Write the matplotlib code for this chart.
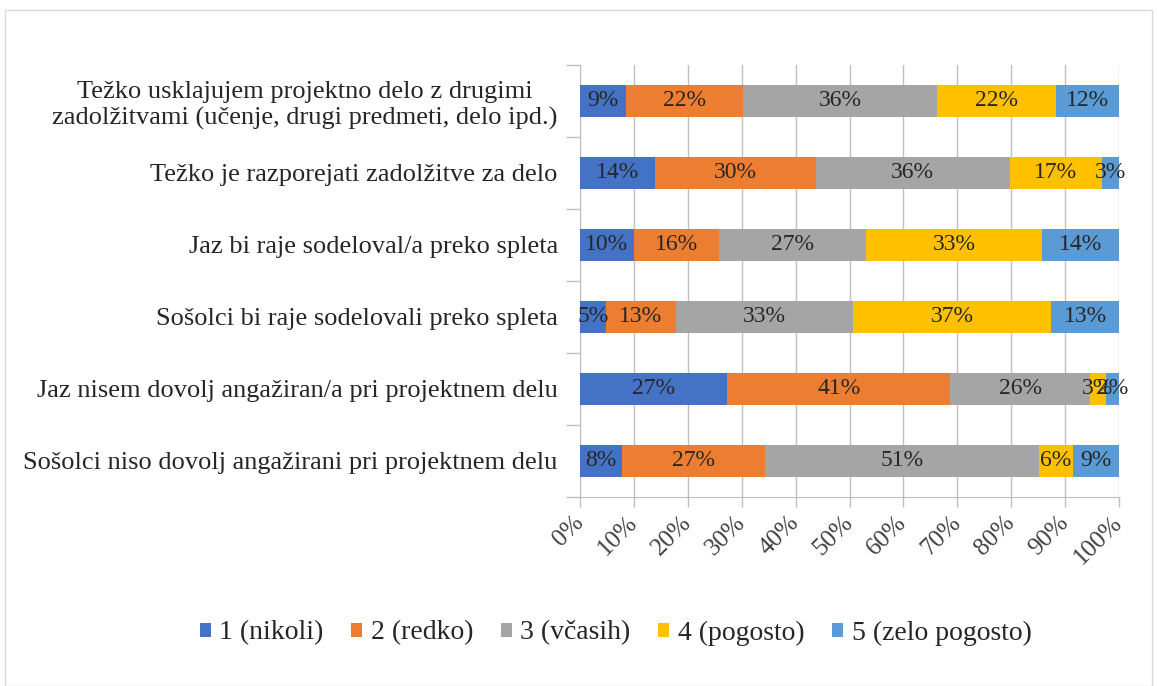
import numpy as np
import matplotlib
matplotlib.use('Agg')
from matplotlib import pyplot as plt
from matplotlib.patches import Rectangle

categories = [
    'Težko usklajujem projektno delo z drugimi\nzadolžitvami (učenje, drugi predmeti, delo ipd.)',
    'Težko je razporejati zadolžitve za delo',
    'Jaz bi raje sodeloval/a preko spleta',
    'Sošolci bi raje sodelovali preko spleta',
    'Jaz nisem dovolj angažiran/a pri projektnem delu',
    'Sošolci niso dovolj angažirani pri projektnem delu',
]
series = ['1 (nikoli)', '2 (redko)', '3 (včasih)', '4 (pogosto)', '5 (zelo pogosto)']
nikoli = [8.6, 14.0, 10.0, 4.8, 27.3, 7.8]
redko = [21.7, 29.7, 15.7, 13.0, 41.4, 26.6]
vcasih = [36.0, 36.0, 27.4, 32.8, 25.9, 50.7]
pogosto = [22.0, 17.1, 32.7, 36.8, 3.0, 6.3]
zelo_pogosto = [11.7, 3.2, 14.2, 12.6, 2.4, 8.6]
colors = ['#4472C4', '#ED7D31', '#A5A5A5', '#FFC000', '#5B9BD5']
xticks = [0, 10, 20, 30, 40, 50, 60, 70, 80, 90, 100]

plt.rcParams['font.family'] = ['Liberation Serif', 'DejaVu Serif']


def main():
    fig = plt.figure(figsize=(11.57, 6.86), dpi=100)
    ax = fig.add_axes([580 / 1157, 1 - 497 / 686, 539 / 1157, 432 / 686])

    fig.patches.append(Rectangle((5 / 1157, 0), 1 - 10 / 1157, 1 - 10 / 686,
                                 transform=fig.transFigure, fill=False,
                                 edgecolor='#D9D9D9', lw=1))

    data = [nikoli, redko, vcasih, pogosto, zelo_pogosto]
    y = np.arange(len(categories))[::-1]
    left = np.zeros(len(categories))
    for name, vals, col in zip(series, data, colors):
        vals = np.asarray(vals)
        bars = ax.barh(y, vals, left=left, height=0.44, color=col, label=name, zorder=3)
        ax.bar_label(bars, labels=['%d%%' % round(v) for v in vals],
                     label_type='center', fontsize=17, color='#262626', zorder=4)
        left += vals

    ax.set_xlim(0, 100)
    ax.set_ylim(-0.5, len(categories) - 0.5)
    ax.set_xticks(xticks)
    ax.set_xticklabels(['%d%%' % t for t in xticks], rotation=45, fontsize=18,
                       color='#404040')
    for lbl in ax.get_xticklabels():
        lbl.set_horizontalalignment('right')
        lbl.set_rotation_mode('anchor')
        lbl.set_verticalalignment('center')
    ax.tick_params(axis='x', pad=9, length=7, color='#BFBFBF', width=1)

    ax.set_yticks(np.arange(len(categories) + 1) - 0.5, minor=False)
    ax.set_yticklabels([])
    ax.set_yticks(y, minor=True)
    ax.set_yticklabels(categories, minor=True, fontsize=19, color='#262626',
                       multialignment='center')
    ax.tick_params(axis='y', which='major', length=10, color='#BFBFBF', width=1)
    ax.tick_params(axis='y', which='minor', length=0, pad=16)

    ax.grid(axis='x', color='#BFBFBF', lw=1, zorder=0)
    for s in ['top', 'right']:
        ax.spines[s].set_visible(False)
    for s in ['left', 'bottom']:
        ax.spines[s].set_color('#BFBFBF')

    fig.legend(loc='center', bbox_to_anchor=(0.532, 1 - 633 / 686), ncol=5,
               frameon=False, fontsize=20, handlelength=0.4, handleheight=0.4,
               handletextpad=0.3, columnspacing=1.0, labelcolor='#262626')

    plt.savefig('out.png')
    plt.close(fig)


if __name__ == '__main__':
    main()
